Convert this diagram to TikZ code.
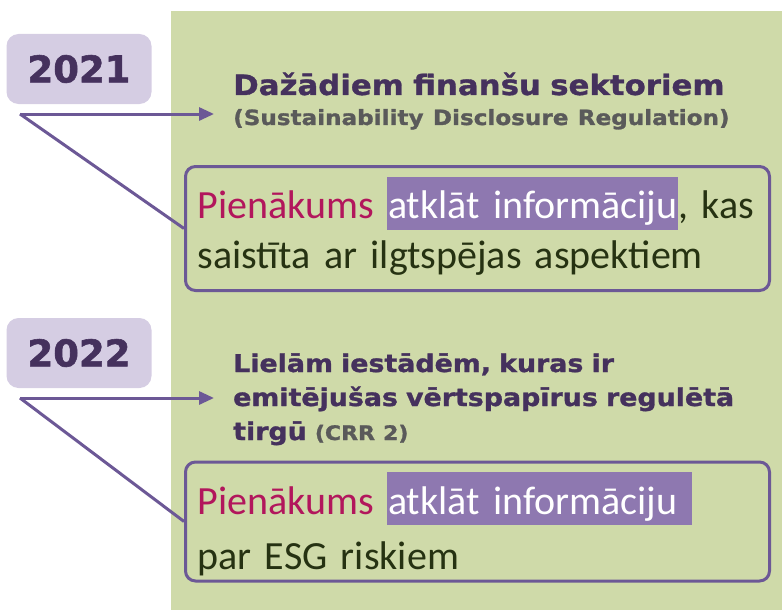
\documentclass[tikz,border=0pt]{standalone}
\usepackage{fontspec}
\setmainfont{Carlito}
\newfontfamily\headfont{DejaVu Sans}[FakeStretch=1.1, FakeBold=1.2]
\newfontfamily\yearfont{DejaVu Sans}[FakeBold=1.5]
\usetikzlibrary{arrows.meta}

\definecolor{paneGreen}{RGB}{207,218,169}
\definecolor{yearLilac}{RGB}{213,205,227}
\definecolor{inkPurple}{RGB}{69,49,93}
\definecolor{linePurple}{RGB}{108,88,150}
\definecolor{markPurple}{RGB}{142,120,176}
\definecolor{dutyRed}{RGB}{178,22,92}
\definecolor{dutyInk}{RGB}{38,50,18}
\definecolor{noteGray}{RGB}{90,90,90}

\newcommand*{\Mark}[1]{{\setlength{\fboxsep}{0pt}\colorbox{markPurple}{\rule[-11pt]{0pt}{53pt}\kern1pt\textcolor{white}{#1}\kern1pt}}}
\newcommand*{\Note}[2][21]{{\color{noteGray}\fontsize{#1}{30}\selectfont #2}}

\tikzset{
    yearbox/.style={fill=yearLilac, rounded corners=12pt, minimum width=145pt,
        minimum height=70pt, text=inkPurple, font=\yearfont\bfseries\fontsize{37}{40}\selectfont},
    heading/.style={anchor=base west, inner sep=0pt, text width=560pt, align=left,
        text=inkPurple, font=\headfont\bfseries\fontsize{28}{30}\selectfont},
    dutybox/.style={anchor=north west, draw=linePurple, line width=3pt, rounded corners=10pt,
        fill=paneGreen, inner xsep=12pt, inner ysep=0pt, text width=560pt, text height=52pt,
        align=left, text=dutyInk, font=\fontsize{40}{50}\selectfont},
    link/.style={draw=linePurple, line width=3pt},
}

\newcommand*{\DrawYearRow}[8][]{%
    % #1 = extra heading options
    % #2 = year
    % #3 = y of the fork
    % #4 = y of the heading baseline
    % #5 = heading text
    % #6 = top of the duty box
    % #7 = depth of the duty text (box bottom below first baseline)
    % #8 = duty text
    \node [yearbox] (year#2) at (79,#3-45) {#2};
    \coordinate (fork#2) at (20,#3);
    \coordinate (tip#2) at (214,#3);
    \node [heading, #1] (head#2) at (233,#4) {#5};
    \node [dutybox, text depth=#7pt] (duty#2) at (184,#6) {#8};
    \draw [link, -{Triangle[length=15pt, width=13pt]}] (fork#2) -- (tip#2);
    \draw [link] (fork#2) -- (duty#2.west);
}

\begin{document}
\begin{tikzpicture}[x=1pt, y=-1pt]
    \useasboundingbox (0,0) rectangle (782,610);
    % green pane behind the texts
    \fill [paneGreen] (171,11) rectangle (782,610);

    \DrawYearRow{2021}{114}{95}
        {Dažādiem finanšu sektoriem\\\Note{(Sustainability Disclosure Regulation)}}
        {165}{72}
        {\textcolor{dutyRed}{Pienākums} \Mark{atklāt informāciju}, kas\\saistīta ar ilgtspējas aspektiem}

    \DrawYearRow[font=\headfont\bfseries\fontsize{24.4}{34}\selectfont]{2022}{398}{372}
        {Lielām iestādēm, kuras ir\\emitējušas vērtspapīrus regulētā\\tirgū \Note[20]{(CRR 2)}}
        {460.5}{67}
        {\textcolor{dutyRed}{Pienākums} \Mark{atklāt informāciju\ }\\[5pt]par ESG riskiem}
\end{tikzpicture}
\end{document}
